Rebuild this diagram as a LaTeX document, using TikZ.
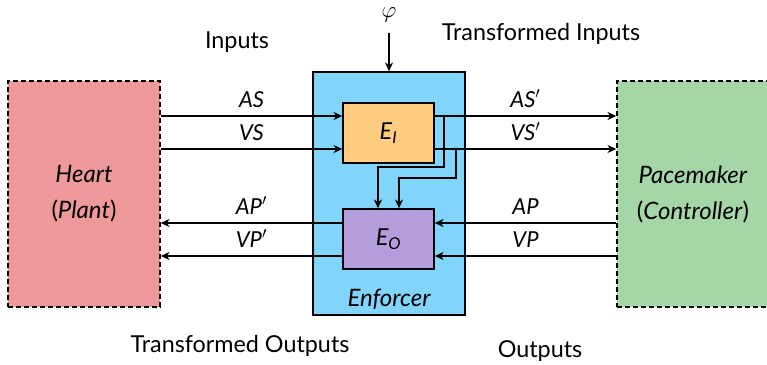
\documentclass[tikz,border=0pt]{standalone}
\usepackage{fontspec}
\setmainfont{Lato}
\usetikzlibrary{arrows.meta,calc}
\definecolor{heartc}{HTML}{EF9A9A}
\definecolor{pacec}{HTML}{A5D6A7}
\definecolor{enfc}{HTML}{81D4FA}
\definecolor{eic}{HTML}{FFCC80}
\definecolor{eoc}{HTML}{B39DDB}
\begin{document}
\begin{tikzpicture}[x=0.75pt,y=-0.75pt,
  box/.style={draw, line width=1.2pt, rectangle, inner sep=0pt},
  dbox/.style={draw, line width=1.2pt, dash pattern=on 3.75pt off 2.25pt, inner sep=0pt, align=center, font=\fontsize{18}{27}\selectfont},
  arr/.style={line width=1.2pt, -{Stealth[length=6.5pt,width=6pt,inset=2pt]}},
  lbl/.style={font=\fontsize{16.5}{18}\selectfont\itshape, anchor=base, inner sep=0pt},
  toplbl/.style={font=\fontsize{17.5}{20}\selectfont, anchor=base, inner sep=0pt}]
\useasboundingbox (0,0) rectangle (767,364);
% boxes
\node[dbox, fill=heartc, minimum width=114pt, minimum height=169.5pt] (heart) at (84,194) {\textit{Heart}\\(\textit{Plant})};
\node[dbox, fill=pacec, minimum width=114pt, minimum height=169.5pt] (pace) at (693,194) {\textit{Pacemaker}\\(\textit{Controller})};
\node[box, fill=enfc, minimum width=114pt, minimum height=182.25pt] (enf) at (389,193.5) {};
\node[box, fill=eic, minimum width=68.25pt, minimum height=45pt, font=\fontsize{17.5}{20}\selectfont] (ei) at (388.5,133) {\textit{E\textsubscript{I}}};
\node[box, fill=eoc, minimum width=68.25pt, minimum height=45pt, font=\fontsize{17.5}{20}\selectfont] (eo) at (388.5,239) {\textit{E\textsubscript{O}}};
\node[lbl, font=\fontsize{18}{20}\selectfont\itshape] (enflbl) at ($(enf.south)+(0,-9)$) {Enforcer};
% levels
\coordinate (yas) at (0,116);
\coordinate (yvs) at (0,149);
\coordinate (yap) at (0,223);
\coordinate (yvp) at (0,256);
% inputs
\draw[arr] (heart.east |- yas) -- node[lbl, yshift=6.75pt] {AS} (ei.west |- yas);
\draw[arr] (heart.east |- yvs) -- node[lbl, yshift=6.75pt] {VS} (ei.west |- yvs);
\draw[arr] (ei.east |- yas) -- node[lbl, yshift=6.75pt] {AS$'$} (pace.west |- yas);
\draw[arr] (ei.east |- yvs) -- node[lbl, yshift=6.75pt] {VS$'$} (pace.west |- yvs);
\draw[arr] (ei.east |- yas) -| (444,167) -| ($(eo.north)+(-10.5,0)$);
\draw[arr] (ei.east |- yvs) -| (456,178) -| ($(eo.north)+(10.5,0)$);
% outputs
\draw[arr] (pace.west |- yap) -- node[lbl, yshift=6.75pt] {AP} (eo.east |- yap);
\draw[arr] (pace.west |- yvp) -- node[lbl, yshift=6.75pt] {VP} (eo.east |- yvp);
\draw[arr] (eo.west |- yap) -- node[lbl, yshift=6.75pt] {AP$'$} (heart.east |- yap);
\draw[arr] (eo.west |- yvp) -- node[lbl, yshift=6.75pt] {VP$'$} (heart.east |- yvp);
% property
\node[inner sep=0pt, font=\fontsize{18}{20}\selectfont] (phi) at (389,14.5) {$\varphi$};
\draw[arr, shorten <=8pt] (phi) -- (enf.north);
% captions
\node[toplbl] (inp) at (237,48) {Inputs};
\node[toplbl] (tinp) at (541,40) {Transformed Inputs};
\node[toplbl] (tout) at (240,352) {Transformed Outputs};
\node[toplbl] (outp) at (540,357) {Outputs};
\end{tikzpicture}
\end{document}
